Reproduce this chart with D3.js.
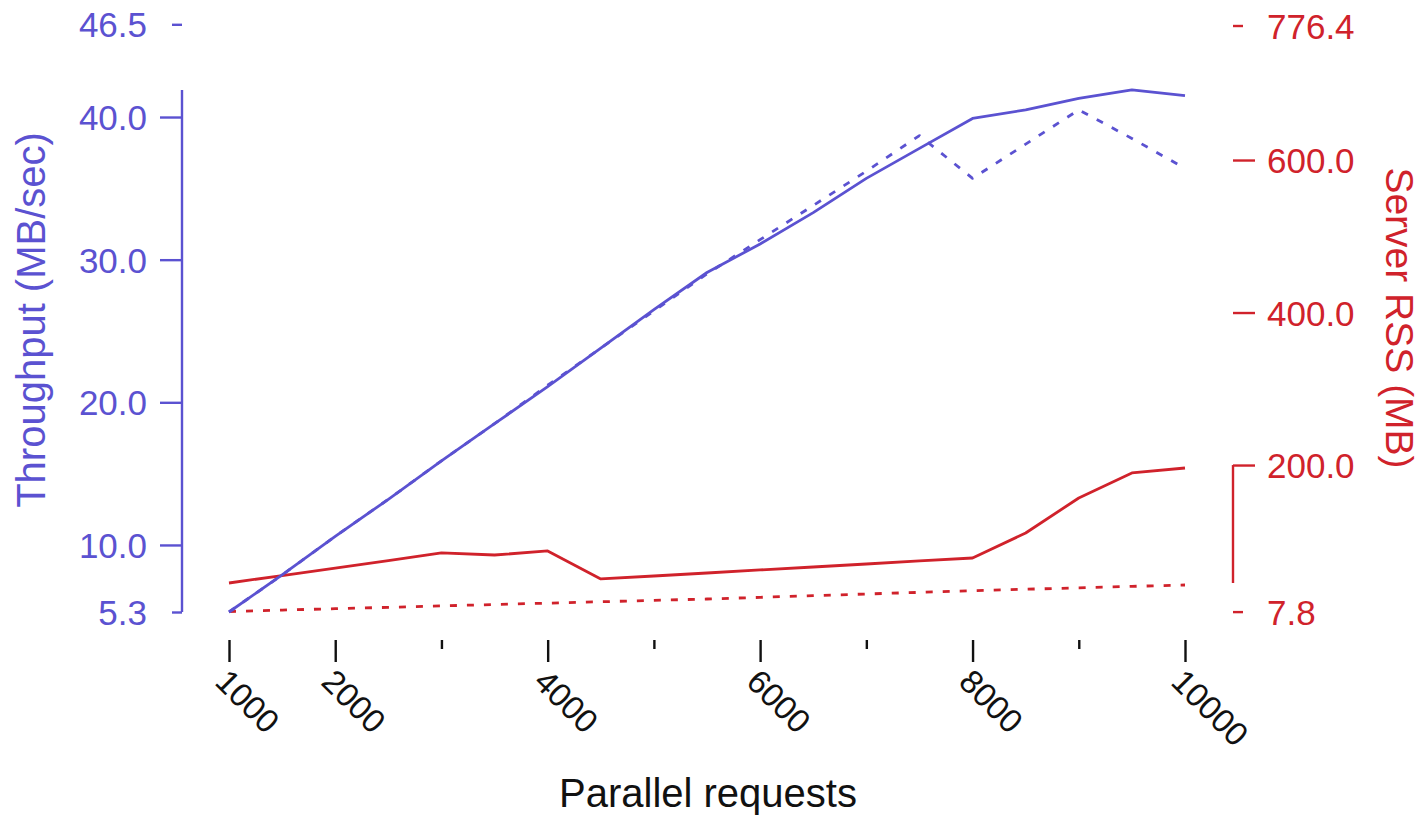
<!DOCTYPE html>
<html>
<head>
<meta charset="utf-8">
<script src="https://cdn.jsdelivr.net/npm/d3@7"></script>
<style>
  html, body { margin: 0; padding: 0; background: #fff; }
  svg { display: block; font-family: "Liberation Sans", Arial, Helvetica, sans-serif; }
</style>
</head>
<body>
<div id="chart"></div>
<script>

// parallel requests
var requests = [1000, 1500, 2000, 2500, 3000, 3500, 4000, 4500, 5000, 5500,
                6000, 6500, 7000, 7500, 8000, 8500, 9000, 9500, 10000];

// throughput, MB/sec
var throughputA = [5.3, 7.9, 10.6, 13.2, 15.9, 18.5, 21.1, 23.8, 26.5, 29.1,
                   31.1, 33.3, 35.7, 37.8, 39.9, 40.5, 41.3, 41.9, 41.5];
var throughputB = [5.3, 7.9, 10.6, 13.2, 15.9, 18.5, 21.2, 23.8, 26.4, 29.0,
                   31.4, 33.8, 36.2, 38.7, 35.7, 38.1, 40.5, 38.5, 36.4];

// server RSS, MB
var rssA = [45.3, 55.1, 64.9, 74.7, 84.7, 82.0, 87.3, 50.6, 54.5, 58.4,
            62.4, 66.3, 70.2, 74.2, 78.1, 110.9, 156.8, 189.6, 196.1];
var rssB = [7.8, 9.8, 11.6, 13.4, 15.3, 17.1, 18.9, 20.7, 22.5, 24.3,
            26.5, 28.7, 30.9, 33.0, 35.2, 37.1, 39.0, 40.9, 42.7];

// ticks
var xMajor = [1000, 2000, 4000, 6000, 8000, 10000];
var xMinor = [3000, 5000, 7000, 9000];
var leftTicks = [10, 20, 30, 40];
var leftEnds = [5.3, 46.5];
var rightTicks = [200, 400, 600];
var rightEnds = [7.8, 776.4];
var rightFrameTop = 200;

var blue = '#5b52d1';
var red = '#d0222b';

var width = 1422, height = 816;

var svg = d3.select('#chart')
			.append('svg')
			.attr('width', width)
			.attr('height', height);

var x = d3.scaleLinear().domain([1000, 10000]).range([229, 1185]);
var yL = d3.scaleLinear().domain(leftEnds).range([612, 24.3]);
var yR = d3.scaleLinear().domain(rightEnds).range([611.6, 25.5]);

var leftX = 182, rightX = 1233;
var fmt = d3.format('.1f');

function styleAxis(g, color, size) {
	g.select('.domain').remove();
	g.selectAll('line').attr('stroke', color).attr('stroke-width', 2.4);
	g.selectAll('text')
	 .attr('fill', color)
	 .style('font-size', size + 'px')
	 .attr('dy', '0.36em');
}

// left axis
svg.append('g')
   .attr('transform', 'translate(' + leftX + ',0)')
   .call(d3.axisLeft(yL).tickValues(leftTicks).tickSize(22).tickPadding(13).tickFormat(fmt))
   .call(styleAxis, blue, 35);
svg.append('g')
   .attr('transform', 'translate(' + leftX + ',0)')
   .call(d3.axisLeft(yL).tickValues(leftEnds).tickSize(10).tickPadding(25).tickFormat(fmt))
   .call(styleAxis, blue, 35);
svg.append('line')
   .attr('x1', leftX).attr('x2', leftX)
   .attr('y1', yL(d3.min(throughputA))).attr('y2', yL(d3.max(throughputA)))
   .attr('stroke', blue).attr('stroke-width', 2.4);

// right axis
svg.append('g')
   .attr('transform', 'translate(' + rightX + ',0)')
   .call(d3.axisRight(yR).tickValues(rightTicks).tickSize(22).tickPadding(12).tickFormat(fmt))
   .call(styleAxis, red, 35);
svg.append('g')
   .attr('transform', 'translate(' + rightX + ',0)')
   .call(d3.axisRight(yR).tickValues(rightEnds).tickSize(10).tickPadding(24).tickFormat(fmt))
   .call(styleAxis, red, 35);
svg.append('line')
   .attr('x1', rightX).attr('x2', rightX)
   .attr('y1', yR(d3.min(rssA))).attr('y2', yR(rightFrameTop))
   .attr('stroke', red).attr('stroke-width', 2.4);

// x axis
var xg = svg.append('g')
			.attr('transform', 'translate(0,640)')
			.call(d3.axisBottom(x).tickValues(xMajor).tickSize(22).tickFormat(''));
xg.select('.domain').remove();
xg.selectAll('line').attr('stroke', '#111').attr('stroke-width', 2.4);

var xm = svg.append('g')
			.attr('transform', 'translate(0,640)')
			.call(d3.axisBottom(x).tickValues(xMinor).tickSize(9).tickFormat(''));
xm.select('.domain').remove();
xm.selectAll('line').attr('stroke', '#111').attr('stroke-width', 2.4);

svg.append('g')
   .selectAll('text')
   .data(xMajor)
   .enter()
   .append('text')
   .attr('transform', function(d) { return 'translate(' + (x(d) - 7) + ',675) rotate(45)'; })
   .attr('dy', '0.36em')
   .attr('fill', '#111')
   .style('font-size', '33px')
   .text(function(d) { return d; });

// lines
function drawLine(values, scale, color, dash) {
	var line = d3.line()
				 .x(function(d, i) { return x(requests[i]); })
				 .y(function(d) { return scale(d); });
	svg.append('path')
	   .datum(values)
	   .attr('d', line)
	   .attr('fill', 'none')
	   .attr('stroke', color)
	   .attr('stroke-width', 2.8)
	   .attr('stroke-dasharray', dash)
	   .attr('stroke-linejoin', 'round');
}

drawLine(rssB, yR, red, '7,10');
drawLine(rssA, yR, red, null);
drawLine(throughputB, yL, blue, '7,10');
drawLine(throughputA, yL, blue, null);

// titles
svg.append('text')
   .attr('transform', 'translate(45,320) rotate(-90)')
   .attr('text-anchor', 'middle')
   .attr('fill', blue)
   .style('font-size', '40px')
   .text('Throughput (MB/sec)');

svg.append('text')
   .attr('transform', 'translate(1386,318) rotate(90)')
   .attr('text-anchor', 'middle')
   .attr('fill', red)
   .style('font-size', '39px')
   .text('Server RSS (MB)');

svg.append('text')
   .attr('x', 708).attr('y', 807)
   .attr('text-anchor', 'middle')
   .attr('fill', '#111')
   .style('font-size', '40px')
   .text('Parallel requests');

</script>
</body>
</html>
